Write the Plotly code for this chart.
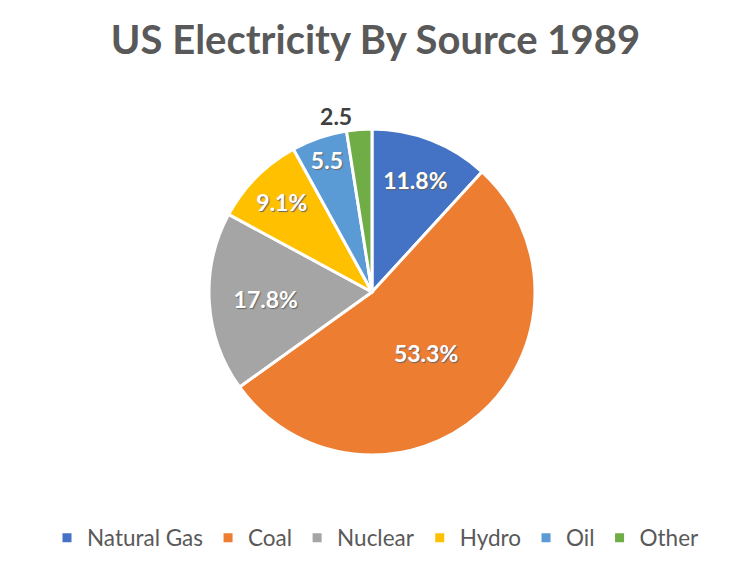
import plotly.graph_objects as go

W, H = 750, 566

sources = ["Natural Gas", "Coal", "Nuclear", "Hydro", "Oil", "Other"]
shares = [11.8, 53.3, 17.8, 9.1, 5.5, 2.5]
labels_shown = ["11.8%", "53.3%", "17.8%", "9.1%", "5.5", "2.5"]
colors = ["#4472C4", "#ED7D31", "#A5A5A5", "#FFC000", "#5B9BD5", "#70AD47"]

# pie box in pixels (plotly draws it shifted ~8px right/down, so compensate)
cx, cy, r = 364, 284, 163

fig = go.Figure(go.Pie(
    labels=sources,
    values=shares,
    text=labels_shown,
    textinfo="text",
    sort=False,
    direction="clockwise",
    rotation=0,
    marker=dict(colors=colors, line=dict(color="white", width=3)),
    textposition=["inside"] * 5 + ["outside"],
    insidetextorientation="horizontal",
    insidetextfont=dict(family="Lato", size=23, color="white",
                        weight="bold", shadow="1px 1px 1px #666"),
    outsidetextfont=dict(family="Lato", size=23, color="#404040", weight="bold"),
    domain=dict(x=[(cx - r) / W, (cx + r) / W],
                y=[1 - (cy + r) / H, 1 - (cy - r) / H]),
    hoverinfo="label+value",
))

fig.update_layout(
    width=W, height=H,
    margin=dict(l=0, r=0, t=0, b=0),
    paper_bgcolor="white",
    title=dict(text="<b>US Electricity By Source 1989</b>",
               x=0.49, xanchor="center", y=1 - 32 / H, yanchor="middle",
               font=dict(family="Lato", size=40, color="#595959")),
    legend=dict(orientation="h", x=39 / W, xanchor="left",
                y=1 - 530 / H, yanchor="middle",
                font=dict(family="Lato", size=22.5, color="#595959"),
                itemclick=False),
)

fig.write_html("out.html")
